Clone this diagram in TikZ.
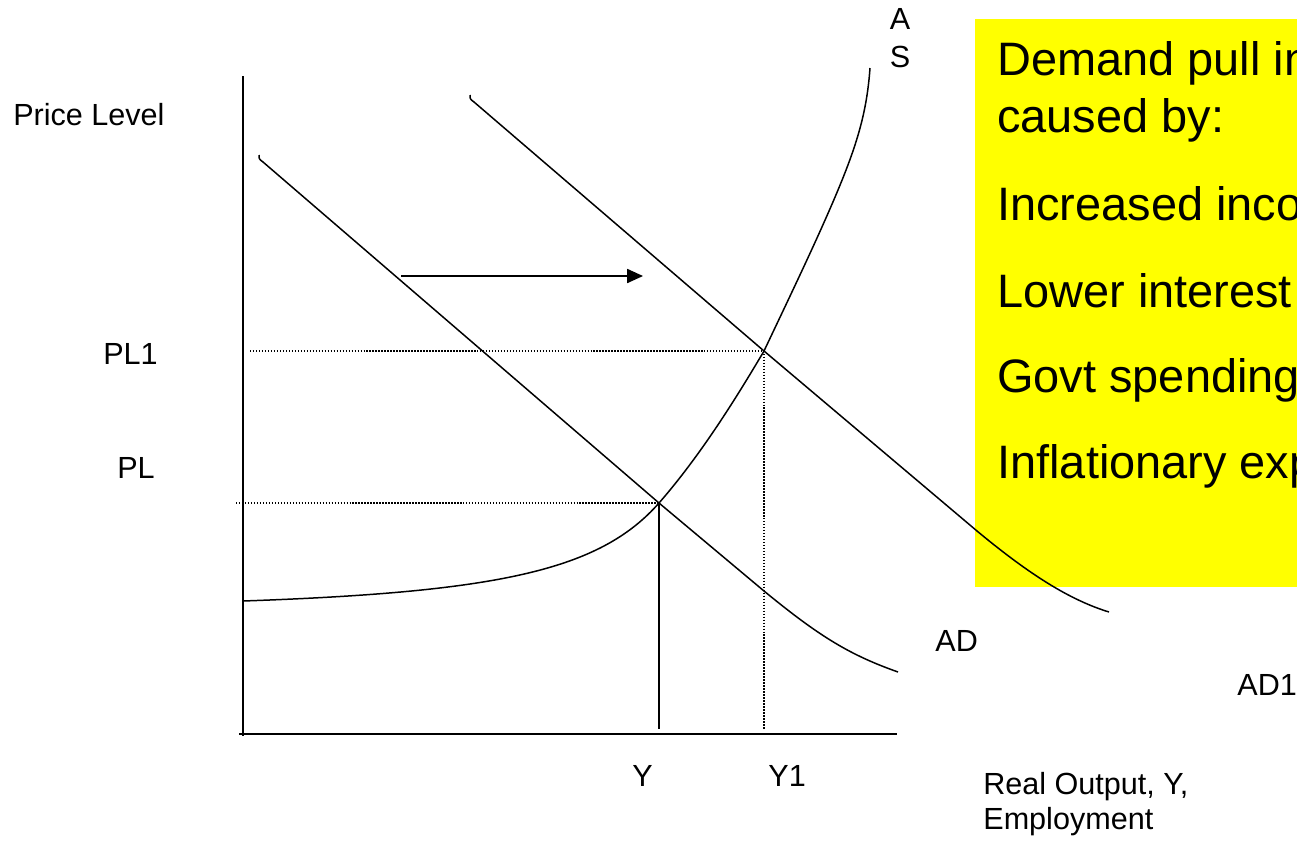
\documentclass[tikz,border=0pt]{standalone}
\usepackage{fontspec}
\setmainfont{Liberation Sans}
\usetikzlibrary{arrows.meta}
\definecolor{boxyellow}{RGB}{255,255,0}
\tikzset{
    lbl/.style={font=\fontsize{17.4}{20}\selectfont,inner sep=0pt,anchor=base west},
    boxtxt/.style={font=\fontsize{26.7}{32}\selectfont,inner sep=0pt,anchor=base west},
    curve/.style={line width=.85pt},
    guide/.style={line width=.85pt,dash pattern=on .85pt off .85pt},
}
\begin{document}
\begin{tikzpicture}[x=.02cm,y=-.02cm]
    \clip (0,0) rectangle (1297,842);
    \coordinate (O) at (243,734);
    \coordinate (E0) at (659,503); % AD meets AS
    \coordinate (E1) at (764,351); % AD1 meets AS
    \fill[boxyellow] (975,19) rectangle (1297,587); % text box
    \node[boxtxt] (t1) at (997,75) {Demand pull in};
    \node[boxtxt] (t2) at (997,132) {caused by:};
    \node[boxtxt] (t3) at (997,220) {Increased inco};
    \node[boxtxt] (t4) at (997,307) {Lower interest};
    \node[boxtxt] (t5) at (997,392) {Govt spending};
    \node[boxtxt] (t6) at (997,478) {Inflationary exp};
    \draw[line width=1.1pt] (O|-0,76) -- (O|-0,736) % price axis
          (239,734) -- (897,734); % output axis
    \draw[guide] (250,351) -- (E1) -- (E1|-0,729)
                 (236,503) -- (E0);
    \draw[curve] (E0) -- (E0|-0,729);
    \draw[curve] (243,601) .. controls (500,592) and (600,570) .. (E0)
          .. controls (700,456) and (735,400) .. (E1)
          .. controls (790,296) and (818,238) .. (838,190)
          .. controls (858,142) and (867,110) .. (870,68); % AS
    \draw[curve] (259,155) .. controls (259,159) .. (263,162) -- (E0) -- (764,591)
          .. controls (820,637) and (850,655) .. (898,672); % AD
    \draw[curve] (470,95) .. controls (470,99) .. (474,102) -- (E1) -- (977,531)
          .. controls (1030,575) and (1070,600) .. (1109,612); % AD1
    \draw[curve,-{Triangle[length=9pt,width=8pt]}] (401,276) coordinate (shift) -- (643,276);
    \node[lbl] (pl) at (13,125) {Price Level};
    \node[lbl] (pl1) at (103,364) {PL1};
    \node[lbl] (pl0) at (117,478) {PL};
    \node[lbl] (y0) at (632,786) {Y};
    \node[lbl] (y1) at (768,786) {Y1};
    \node[lbl] (ad) at (935,651) {AD};
    \node[lbl] (ad1) at (1237,695) {AD1};
    \node[lbl,anchor=base] (asA) at (900,29) {A};
    \node[lbl,anchor=base] (asS) at (900,67) {S};
    \node[lbl,align=left,font=\fontsize{17.4}{19.9}\selectfont] (out) at (983,829) {Real Output, Y,\\Employment};
\end{tikzpicture}
\end{document}
